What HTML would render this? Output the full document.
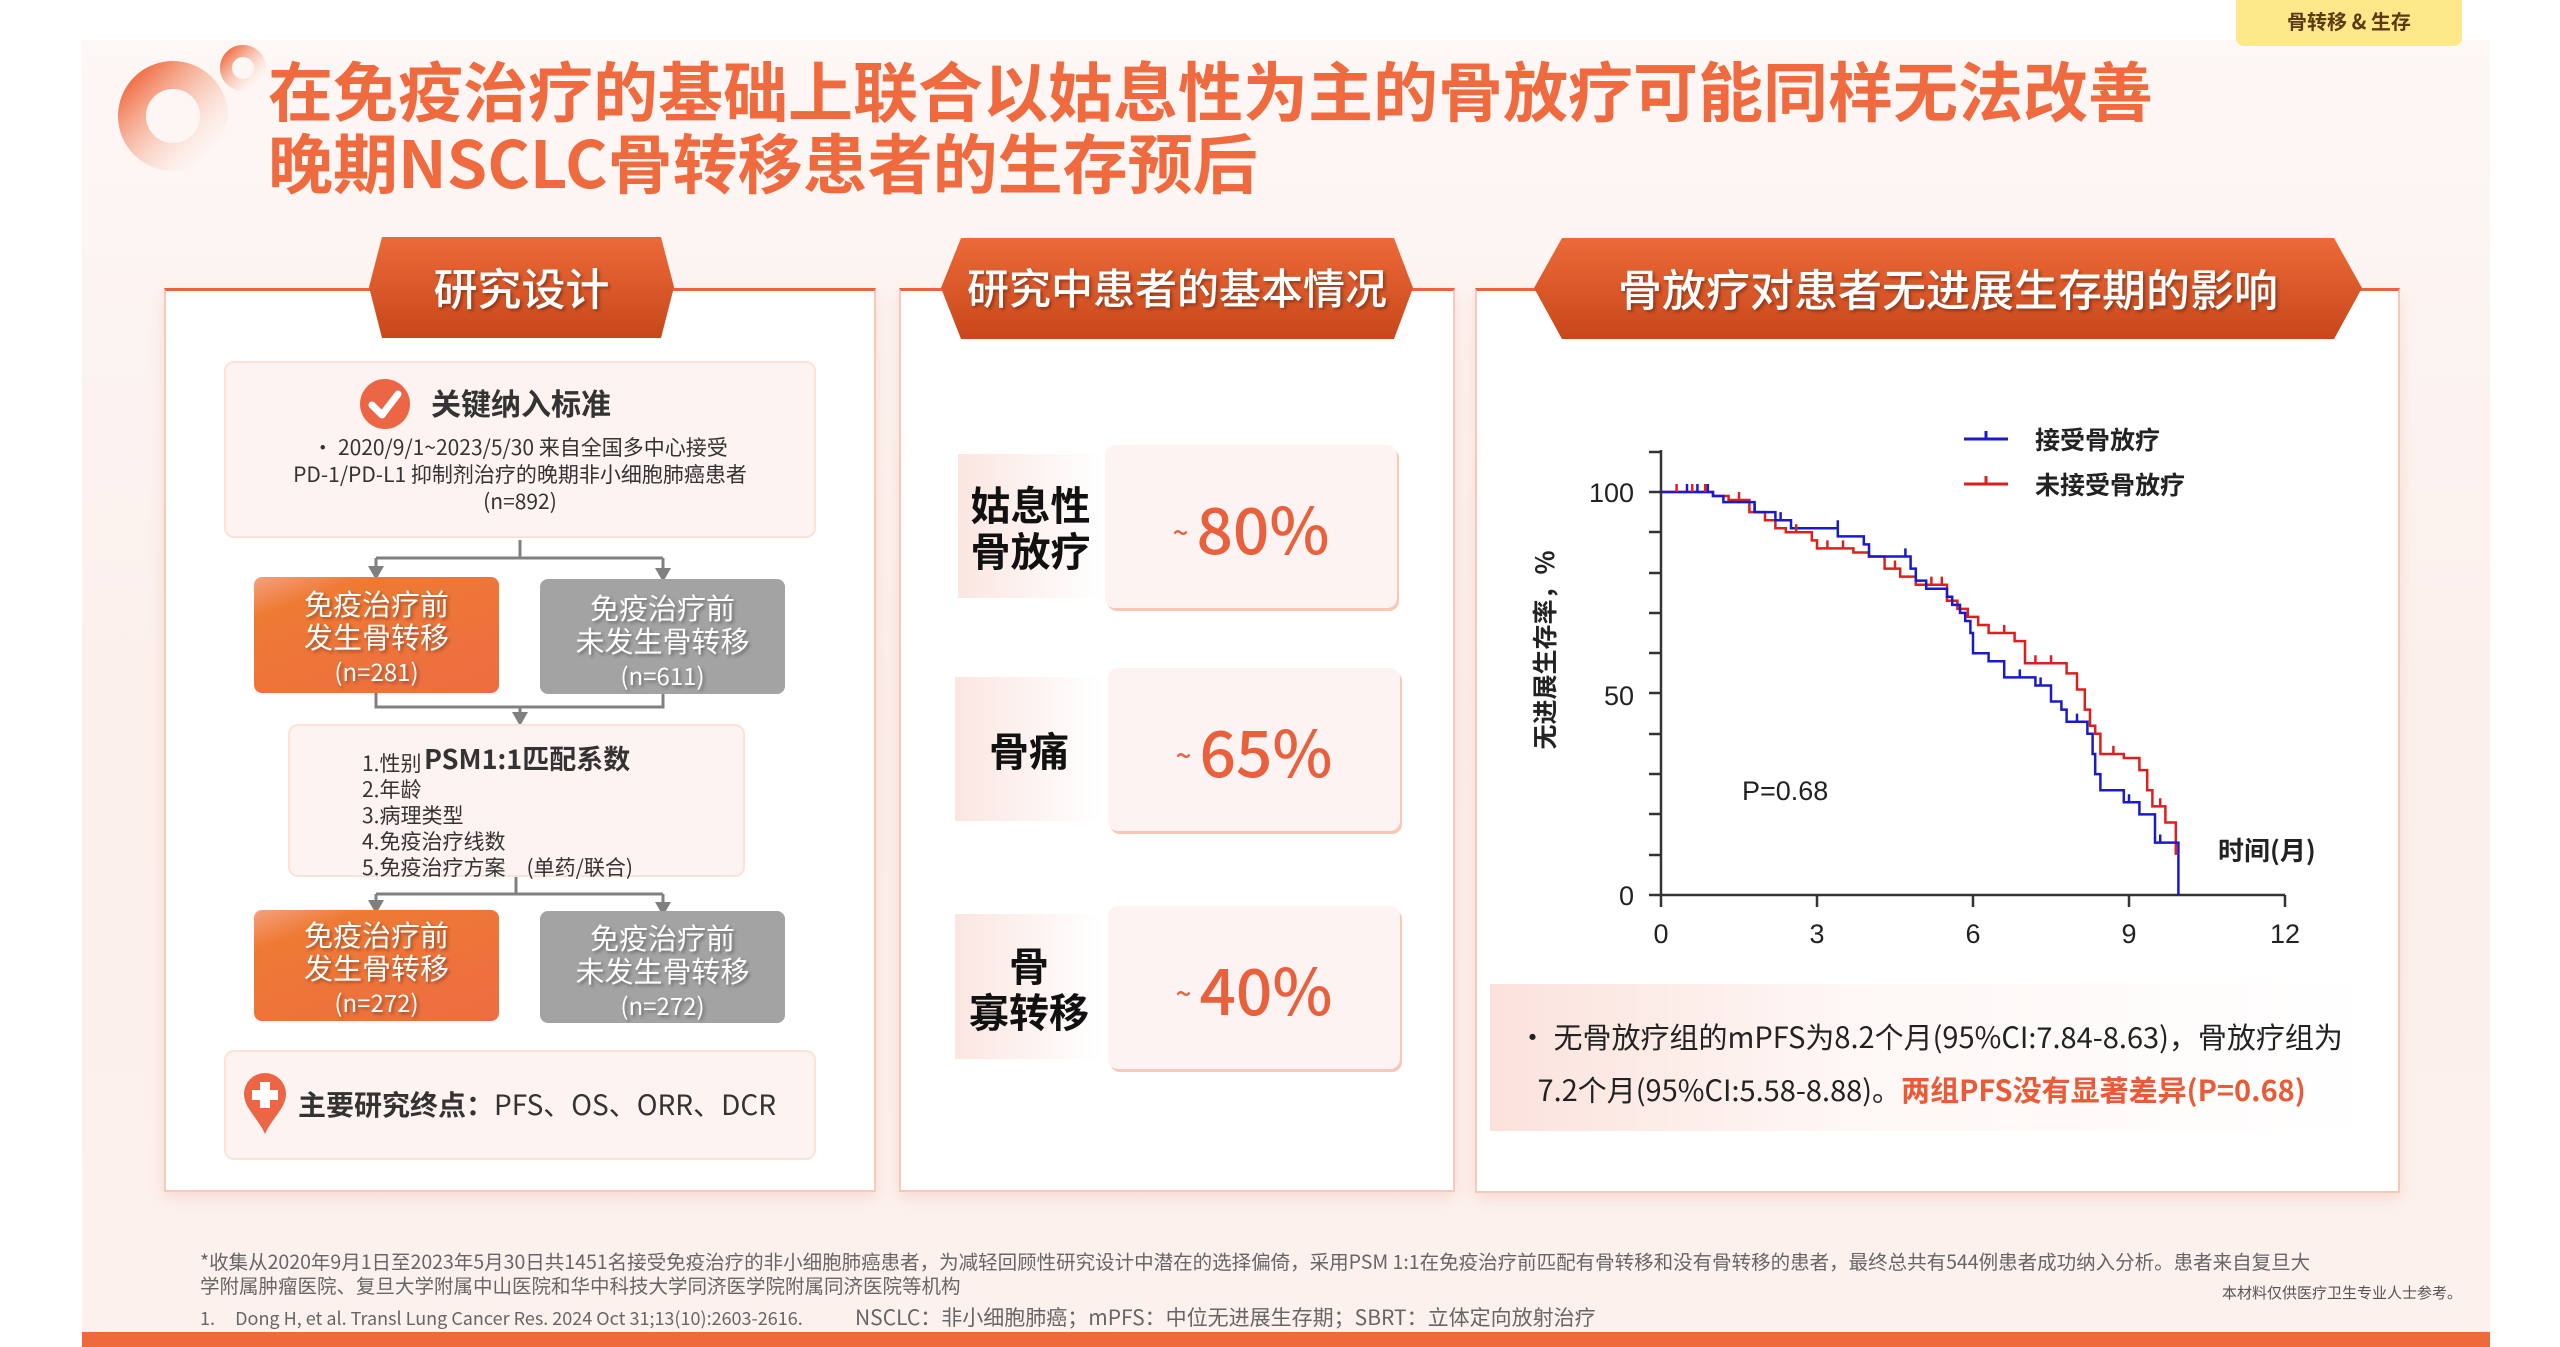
<!DOCTYPE html>
<html><head><meta charset="utf-8">
<style>
*{margin:0;padding:0;box-sizing:border-box}
body{width:2560px;height:1347px;position:relative;overflow:hidden;background:#fff;font-family:"Liberation Sans","Noto Sans CJK SC",sans-serif;color:#333}
.a{position:absolute}
.cjk{font-family:"Noto Sans CJK SC","Liberation Sans",sans-serif}
.panel{position:absolute;background:#fff;border:2px solid #f6c9b8;border-top:3px solid #e9643a;box-shadow:0 6px 14px rgba(230,150,130,.25)}
.tab{position:absolute;color:#fff;font-size:44px;text-align:center;font-family:"Noto Sans CJK SC",sans-serif;font-weight:500;background:linear-gradient(#ec6a38,#c8471b);text-shadow:2px 2px 3px rgba(0,0,0,.35)}
.pink{position:absolute;background:#fdf3f1;border:2px solid #fbe3da;border-radius:10px}
.ob{position:absolute;border-radius:8px;color:#fff;text-align:center;font-size:29px;line-height:33px;font-family:"Noto Sans CJK SC",sans-serif;text-shadow:2px 2px 3px rgba(0,0,0,.35)}
.or{background:linear-gradient(160deg,#f5a07e 0%,#ee7a34 20%,#ee6c42 100%)}
.gr{background:#a3a3a3}
.lbl{position:absolute;background:linear-gradient(90deg,#fbe6e1,#fff);font-weight:700;color:#111;font-size:40px;line-height:46px;text-align:center;display:flex;align-items:center;justify-content:center;font-family:"Noto Sans CJK SC",sans-serif}
.val{position:absolute;background:#fdf3f3;border-radius:10px;box-shadow:2px 3px 0 #f8c7b6;color:#e8603c;font-size:64px;font-weight:500;font-family:"Noto Sans CJK SC",sans-serif;display:flex;align-items:center;justify-content:center}
.val span{font-size:28px;margin-right:8px;margin-top:10px}
.ft{position:absolute;font-size:20px;color:#666;white-space:nowrap;font-family:"Noto Sans CJK SC",sans-serif}
</style></head><body>
<div class="a" style="left:82px;top:40px;width:2408px;height:1302px;background:linear-gradient(#fdf7f5,#fcf0ec 50%,#fdf1ee)"></div>
<div class="a" style="left:82px;top:1332px;width:2408px;height:15px;background:#ee6a3a"></div>
<div class="a cjk" style="left:2236px;top:0;width:226px;height:46px;background:#fde98a;border-radius:0 0 8px 8px;font-size:20px;font-weight:700;color:#5a3a10;text-align:center;line-height:42px">骨转移 &amp; 生存</div>
<svg class="a" style="left:0;top:0" width="300" height="200">
<defs><linearGradient id="rg" x1="0" y1="0" x2="1" y2="1"><stop offset="0" stop-color="#ef6a3e"/><stop offset="1" stop-color="#fff" stop-opacity=".3"/></linearGradient></defs>
<circle cx="173" cy="116" r="41" fill="none" stroke="url(#rg)" stroke-width="28"/>
<circle cx="243" cy="68" r="17" fill="none" stroke="url(#rg)" stroke-width="12"/>
</svg>
<div class="a cjk" style="left:268px;top:52px;font-size:65px;line-height:72px;color:#ef6a3e;font-weight:700;white-space:nowrap">在免疫治疗的基础上联合以姑息性为主的骨放疗可能同样无法改善<br>晚期NSCLC骨转移患者的生存预后</div>

<div class="panel" style="left:164px;top:288px;width:712px;height:904px"></div>
<div class="panel" style="left:899px;top:288px;width:556px;height:904px"></div>
<div class="panel" style="left:1475px;top:288px;width:925px;height:905px"></div>
<div class="tab" style="left:369px;top:237px;width:305px;height:101px;line-height:98px;clip-path:polygon(13px 0,292px 0,305px 50px,292px 101px,13px 101px,0 50px)">研究设计</div>
<div class="tab" style="left:941px;top:238px;width:472px;height:101px;line-height:98px;font-size:42px;clip-path:polygon(20px 0,453px 0,472px 50px,453px 101px,20px 101px,0 50px)">研究中患者的基本情况</div>
<div class="tab" style="left:1534px;top:238px;width:828px;height:101px;line-height:98px;clip-path:polygon(28px 0,800px 0,828px 50px,800px 101px,28px 101px,0 50px)">骨放疗对患者无进展生存期的影响</div>

<div class="pink" style="left:224px;top:361px;width:592px;height:177px"></div>
<svg class="a" style="left:358px;top:377px" width="56" height="56"><circle cx="27" cy="27" r="25" fill="#ec6544"/><path d="M14 28 L24 38 L40 17" fill="none" stroke="#fff" stroke-width="7" stroke-linecap="round" stroke-linejoin="round"/></svg>
<div class="a cjk" style="left:431px;top:380px;font-size:30px;font-weight:700;color:#333">关键纳入标准</div>
<div class="a cjk" style="left:224px;top:434px;width:592px;text-align:center;font-size:21px;line-height:27px;color:#333">• 2020/9/1~2023/5/30 来自全国多中心接受<br>PD-1/PD-L1 抑制剂治疗的晚期非小细胞肺癌患者<br>(n=892)</div>
<svg class="a" style="left:0;top:0" width="900" height="1200">
<g fill="none" stroke="#808080" stroke-width="3">
<path d="M520 540 V558 M376 558 H663 M376 558 V570 M663 558 V572"/>
<path d="M376 693 V707 H663 V694 M520 707 V714"/>
<path d="M516 877 V894 M376 894 H663 M376 894 V902 M663 894 V904"/>
</g>
<g fill="#808080"><path d="M368 566 L384 566 L376 580Z"/><path d="M655 568 L671 568 L663 582Z"/><path d="M512 712 L528 712 L520 726Z"/><path d="M368 900 L384 900 L376 914Z"/><path d="M655 902 L671 902 L663 916Z"/></g>
</svg>
<div class="ob or" style="left:254px;top:577px;width:245px;height:116px;padding-top:10px">免疫治疗前<br>发生骨转移<br><span style="font-size:24px">(n=281)</span></div>
<div class="ob gr" style="left:540px;top:579px;width:245px;height:115px;padding-top:12px">免疫治疗前<br>未发生骨转移<br><span style="font-size:24px">(n=611)</span></div>
<div class="pink" style="left:288px;top:724px;width:457px;height:153px"></div>
<div class="a cjk" style="left:424px;top:738px;font-size:27px;font-weight:700;color:#333">PSM1:1匹配系数</div>
<div class="a cjk" style="left:362px;top:750px;font-size:21px;line-height:26px;color:#333;white-space:nowrap">1.性别<br>2.年龄<br>3.病理类型<br>4.免疫治疗线数<br>5.免疫治疗方案　(单药/联合)</div>
<div class="ob or" style="left:254px;top:910px;width:245px;height:111px;padding-top:8px">免疫治疗前<br>发生骨转移<br><span style="font-size:24px">(n=272)</span></div>
<div class="ob gr" style="left:540px;top:911px;width:245px;height:112px;padding-top:10px">免疫治疗前<br>未发生骨转移<br><span style="font-size:24px">(n=272)</span></div>
<div class="pink" style="left:224px;top:1050px;width:592px;height:110px"></div>
<svg class="a" style="left:242px;top:1072px" width="46" height="64"><path d="M23 62 C16 46 2 36 2 22 A21 21 0 0 1 44 22 C44 36 30 46 23 62Z" fill="#ec6544"/><path d="M18 10h10v8h8v10h-8v8h-10v-8h-8v-10h8z" fill="#fff"/></svg>
<div class="a cjk" style="left:298px;top:1084px;font-size:28px;color:#333;white-space:nowrap"><b>主要研究终点：</b>PFS、OS、ORR、DCR</div>

<div class="lbl" style="left:958px;top:454px;width:145px;height:144px">姑息性<br>骨放疗</div>
<div class="val" style="left:1105px;top:445px;width:292px;height:163px"><span>~</span>80%</div>
<div class="lbl" style="left:955px;top:677px;width:148px;height:144px">骨痛</div>
<div class="val" style="left:1108px;top:668px;width:292px;height:163px"><span>~</span>65%</div>
<div class="lbl" style="left:955px;top:914px;width:148px;height:145px">骨<br>寡转移</div>
<div class="val" style="left:1108px;top:906px;width:292px;height:163px"><span>~</span>40%</div>

<svg class="a" style="left:0;top:0" width="2560" height="1347">
<g stroke="#333" stroke-width="2.5" fill="none">
<path d="M1661 450 V895 H2285"/>
<path d="M1649 895 H1661 M1649 855 H1661 M1649 814 H1661 M1649 774 H1661 M1649 734 H1661 M1649 693 H1661 M1649 653 H1661 M1649 613 H1661 M1649 573 H1661 M1649 532 H1661 M1649 492 H1661 M1649 452 H1661"/>
<path d="M1661 895 V907 M1817 895 V907 M1973 895 V907 M2129 895 V907 M2285 895 V907"/>
</g>
<g font-size="27" fill="#222" font-family="Liberation Sans,sans-serif">
<text x="1634" y="502" text-anchor="end">100</text>
<text x="1634" y="705" text-anchor="end">50</text>
<text x="1634" y="905" text-anchor="end">0</text>
<text x="1661" y="943" text-anchor="middle">0</text>
<text x="1817" y="943" text-anchor="middle">3</text>
<text x="1973" y="943" text-anchor="middle">6</text>
<text x="2129" y="943" text-anchor="middle">9</text>
<text x="2285" y="943" text-anchor="middle">12</text>
<text x="1742" y="800">P=0.68</text>
</g>
<text x="2218" y="860" font-size="26" fill="#222" font-weight="700" font-family="Noto Sans CJK SC,sans-serif">时间(月)</text>
<text transform="translate(1554,650) rotate(-90)" text-anchor="middle" font-size="25" fill="#222" font-weight="700" font-family="Noto Sans CJK SC,sans-serif">无进展生存率，%</text>
<path d="M1964 439 H2008 M1986 439 V431" stroke="#1a1acc" stroke-width="3"/>
<path d="M1964 484 H2008 M1986 484 V476" stroke="#dd1f1f" stroke-width="3"/>
<text x="2035" y="449" font-size="25" fill="#222" font-weight="700" font-family="Noto Sans CJK SC,sans-serif">接受骨放疗</text>
<text x="2035" y="494" font-size="25" fill="#222" font-weight="700" font-family="Noto Sans CJK SC,sans-serif">未接受骨放疗</text>
<g transform="translate(1661,895) scale(52,-4.03)" fill="none" stroke-width="2.5">
<path vector-effect="non-scaling-stroke" stroke="#dd1f1f" d="M0,100 H1.0 V99 H1.3 V98 H1.7 V95 H2.0 V93 H2.2 V91 H2.4 V90 H2.9 V88 H3.0 V86 H3.7 V85 H4.0 V84 H4.3 V81 H4.6 V79 H4.9 V77 H5.5 V73 H5.7 V71 H5.9 V69 H6.1 V67 H6.3 V65 H6.8 V63 H7.0 V57.5 H7.8 V55 H8.0 V51 H8.15 V46 H8.25 V42 H8.35 V40 H8.45 V35 H8.9 V34 H9.2 V31 H9.35 V26 H9.45 V22 H9.7 V18 H9.9 V10"/>
<path vector-effect="non-scaling-stroke" stroke="#1a1acc" d="M0,100 H1.0 V99 H1.2 V97.5 H1.8 V95 H2.2 V93 H2.5 V91 H3.4 V89 H3.9 V87 H4.0 V84 H4.8 V81 H4.9 V78 H5.1 V76 H5.5 V74 H5.6 V72 H5.75 V70 H5.85 V68 H5.95 V65 H6.0 V60 H6.3 V58 H6.6 V54 H7.2 V52 H7.5 V48 H7.7 V46 H7.8 V43 H8.2 V40 H8.3 V35 H8.35 V30 H8.45 V26 H8.9 V23 H9.2 V20 H9.5 V13 H9.95 V0"/>
<path vector-effect="non-scaling-stroke" stroke="#1a1acc" d="M0.5,100 v2 M0.7,100 v2 M0.9,100 v2 M1.8,95 v2 M2.3,93 v2 M3.4,91 v2 M4.7,84 v2 M6.9,54 v2 M7.3,52 v2 M8.0,43 v2 M9.0,23 v2 M9.6,13 v2"/>
<path vector-effect="non-scaling-stroke" stroke="#dd1f1f" d="M0.3,100 v2 M0.6,100 v2 M0.85,100 v2 M1.5,98 v2 M2.6,90 v2 M3.2,86 v2 M3.5,86 v2 M4.5,81 v2 M5.2,77 v2 M5.4,77 v2 M6.6,65 v2 M7.2,57.5 v2 M7.5,57.5 v2 M8.7,35 v2 M9.6,22 v2 M9.9,10 v2"/>
</g>
</svg>
<div class="a" style="left:1490px;top:984px;width:886px;height:147px;background:linear-gradient(90deg,#fbe2dc,#fef7f5 40%,#fff)"></div>
<div class="a cjk" style="left:1518px;top:1010px;font-size:29px;line-height:53px;color:#222;white-space:nowrap">•&nbsp;无骨放疗组的mPFS为8.2个月(95%CI:7.84-8.63)，骨放疗组为<br>&nbsp;&nbsp;&nbsp;7.2个月(95%CI:5.58-8.88)。<span style="color:#ea5a36;font-weight:700">两组PFS没有显著差异(P=0.68)</span></div>

<div class="ft" style="left:200px;top:1246px;font-size:19.5px">*收集从2020年9月1日至2023年5月30日共1451名接受免疫治疗的非小细胞肺癌患者，为减轻回顾性研究设计中潜在的选择偏倚，采用PSM 1:1在免疫治疗前匹配有骨转移和没有骨转移的患者，最终总共有544例患者成功纳入分析。患者来自复旦大</div>
<div class="ft" style="left:200px;top:1270px;font-size:19.5px">学附属肿瘤医院、复旦大学附属中山医院和华中科技大学同济医学院附属同济医院等机构</div>
<div class="ft" style="left:200px;top:1305px;font-size:18px">1.&nbsp;&nbsp;&nbsp;&nbsp;&nbsp;Dong H, et al. Transl Lung Cancer Res. 2024 Oct 31;13(10):2603-2616.</div>
<div class="ft" style="left:855px;top:1302px;font-size:21px">NSCLC：非小细胞肺癌；mPFS：中位无进展生存期；SBRT：立体定向放射治疗</div>
<div class="ft" style="left:2222px;top:1282px;font-size:15px;color:#555">本材料仅供医疗卫生专业人士参考。</div>
</body></html>
